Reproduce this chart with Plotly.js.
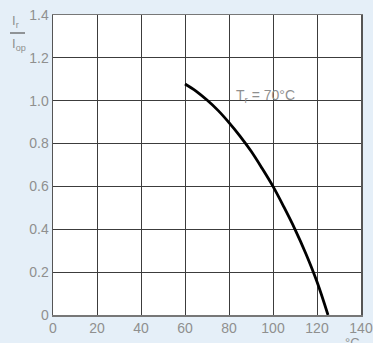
<!DOCTYPE html>
<html>
<head>
<meta charset="utf-8">
<script src="https://cdn.plot.ly/plotly-3.0.1.min.js"></script>
<style>html,body{margin:0;padding:0;background:#e5eff8;}#chart{width:373px;height:343px;}</style>
</head>
<body>
<div id="chart"></div>
<script>
var tempC = [60, 65, 70, 75, 80, 85, 90, 95, 100, 105, 110, 115, 120, 125];
var ratio = [1.078, 1.045, 1.003, 0.955, 0.898, 0.835, 0.765, 0.685, 0.6, 0.503, 0.4, 0.285, 0.155, 0.0];
var xTicks = [0, 20, 40, 60, 80, 100, 120, 140];
var yTicks = [0, 0.2, 0.4, 0.6, 0.8, 1.0, 1.2, 1.4];
var yTickText = ['0', '0.2', '0.4', '0.6', '0.8', '1.0', '1.2', '1.4'];
var annText = 'T<sub>r</sub> = 70°C';

var W = 373, H = 343, L = 53, R = 12, T = 15, B = 28;
function px(x) { return (x - L) / (W - L - R); }
function py(y) { return (H - B - y) / (H - T - B); }
var gray = '#8f8f8f';
var font = {family: 'Liberation Sans, Arial, sans-serif', size: 14, color: gray};

var trace = {
  x: tempC, y: ratio, type: 'scatter', mode: 'lines',
  line: {color: '#000', width: 2.8, shape: 'spline', smoothing: 1},
  hoverinfo: 'none', showlegend: false
};

var layout = {
  width: W, height: H,
  margin: {l: L, r: R, t: T, b: B, pad: 0},
  paper_bgcolor: '#e5eff8', plot_bgcolor: '#ffffff',
  font: font,
  xaxis: {range: [0, 140], tickvals: xTicks, ticktext: xTicks.map(String),
    showgrid: true, gridcolor: '#3c3c3c', gridwidth: 1, zeroline: false,
    showline: true, linecolor: '#777', linewidth: 1.5, mirror: true,
    ticks: '', tickfont: font, ticklabelstandoff: 0, fixedrange: true},
  yaxis: {range: [0, 1.4], tickvals: yTicks, ticktext: yTickText,
    showgrid: true, gridcolor: '#3c3c3c', gridwidth: 1, zeroline: false,
    showline: true, linecolor: '#555', linewidth: 1.5, mirror: true,
    ticks: '', tickfont: font, ticklabelstandoff: 0, fixedrange: true},
  annotations: [
    {xref: 'x', yref: 'y', x: 82.3, y: 1.02, xanchor: 'left', yanchor: 'middle',
     text: annText, showarrow: false, font: {family: font.family, size: 14, color: gray}},
    {xref: 'paper', yref: 'paper', x: px(10), y: py(22), xanchor: 'left', yanchor: 'middle',
     text: 'I<sub>r</sub>', showarrow: false, font: {family: font.family, size: 13, color: gray}},
    {xref: 'paper', yref: 'paper', x: px(10), y: py(44), xanchor: 'left', yanchor: 'middle',
     text: 'I<sub>op</sub>', showarrow: false, font: {family: font.family, size: 13, color: gray}},
    {xref: 'paper', yref: 'paper', x: px(352), y: py(342), xanchor: 'center', yanchor: 'middle',
     text: '°C', showarrow: false, font: {family: font.family, size: 13, color: gray}}
  ],
  shapes: [
    {type: 'line', xref: 'paper', yref: 'paper', x0: px(10), x1: px(25), y0: py(33), y1: py(33),
     line: {color: '#555', width: 1.2}}
  ]
};

Plotly.newPlot('chart', [trace], layout, {displayModeBar: false, staticPlot: true});
</script>
</body>
</html>
